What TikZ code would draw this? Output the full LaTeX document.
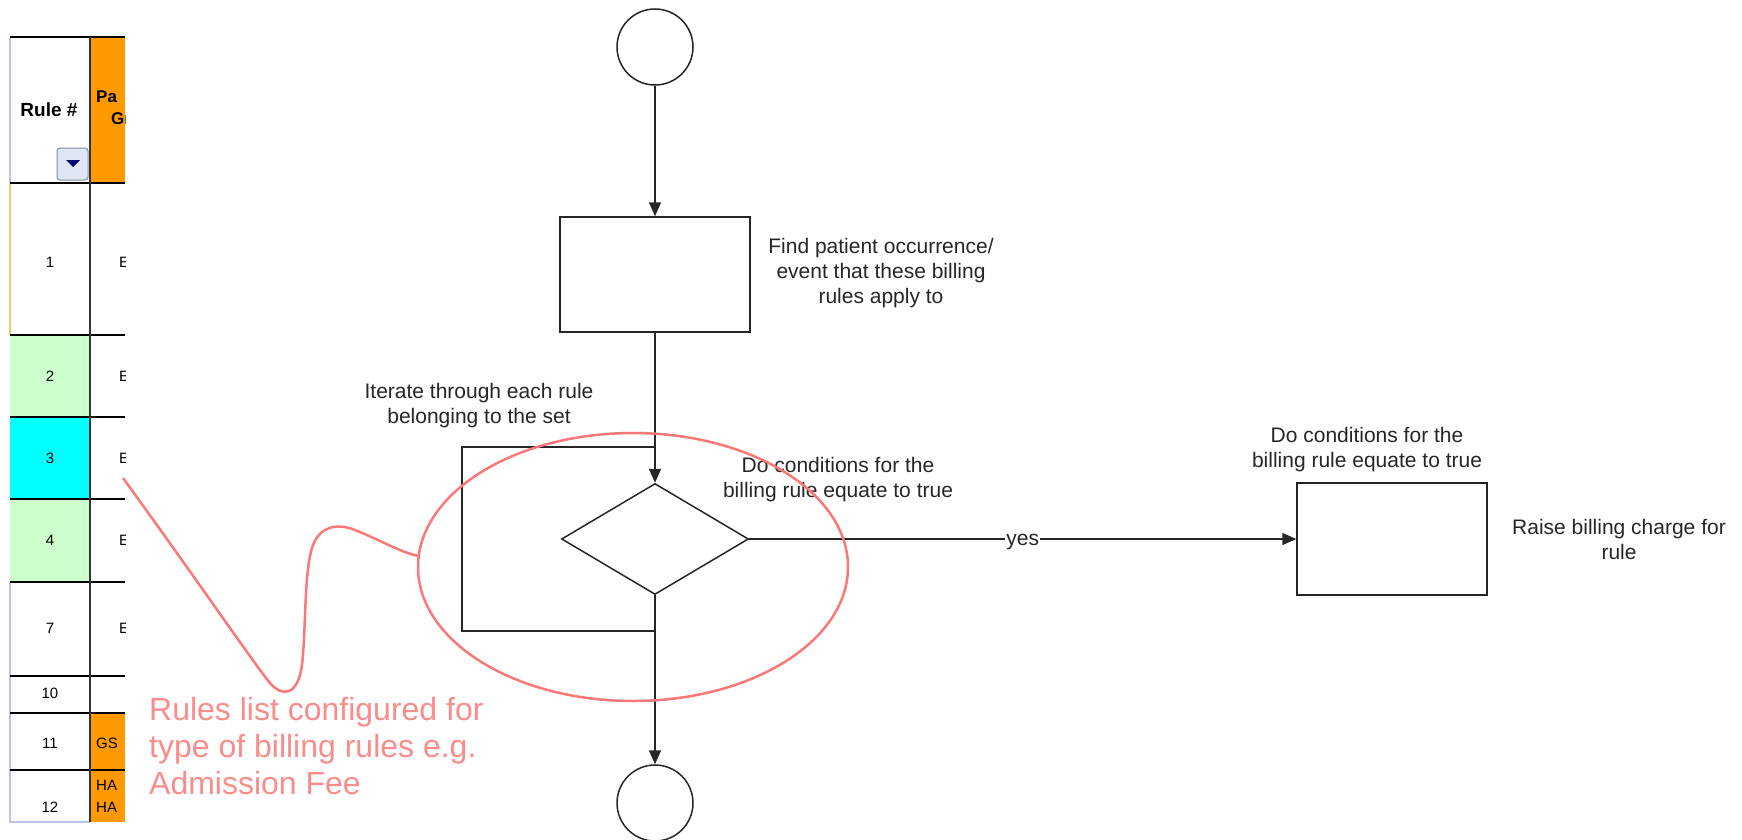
\documentclass[tikz,border=0pt]{standalone}
\usepackage{fontspec}
\setmainfont{Liberation Sans}
\usepackage{xcolor}
\usepackage{tikz}
\usetikzlibrary{shapes.geometric}
\usetikzlibrary{arrows.meta}
\usetikzlibrary{positioning}

\definecolor{xlorange}{RGB}{255,153,0}
\definecolor{xlgreen}{RGB}{204,255,204}
\definecolor{xlcyan}{RGB}{0,255,255}
\definecolor{xlblue}{RGB}{184,200,228}
\definecolor{markred}{RGB}{250,120,120}

\begin{document}
\begin{tikzpicture}[
  x=1pt, y=-1pt,
  box/.style={draw=black!85, line width=1.5pt, minimum width=190pt, minimum height=115pt, inner sep=0pt},
  term/.style={draw=black!85, circle, line width=1.5pt, minimum size=76pt, inner sep=0pt},
  decision/.style={draw=black!85, diamond, line width=1.5pt, minimum width=187pt, minimum height=111pt, inner sep=0pt},
  arr/.style={-{Triangle[length=14pt,width=12pt]}, line width=1.5pt, black!85},
  note/.style={font=\fontsize{21}{25}\selectfont, align=center, inner sep=0pt, text=black!85},
  num/.style={font=\fontsize{15}{18}\selectfont},
  cell/.style={line width=1.5pt},
  hilite/.style={draw=markred, ellipse, line width=2.5pt, minimum width=430pt, minimum height=268pt}
]
\useasboundingbox (0,0) rectangle (1742,840);

%% Rules table (left)
\fill[xlorange] (90,37) rectangle (125,183);
\fill[xlgreen] (10,335) rectangle (90,417);
\fill[xlcyan] (10,417) rectangle (90,499);
\fill[xlgreen] (10,499) rectangle (90,582);
\fill[xlorange] (90,713) rectangle (125,822);
\draw[cell, xlblue] (10,37) -- (10,183);
\draw[cell, xlorange!55] (10,183) -- (10,335);
\draw[cell, xlblue] (10,582) -- (10,822) -- (90,822);
\foreach \y in {37,183,335,417,499,582,676,713,770}
  \draw[cell] (10,\y) -- (125,\y);
\draw[cell, black!80] (90,37) -- (90,822);

\node[font=\bfseries\fontsize{19}{22}\selectfont] (rulehdr) at (49,110) {Rule \#};
\draw[rounded corners=3pt, draw=xlblue!70!black, fill=xlblue!45, line width=1pt] (57,148) rectangle (88,180);
\fill[blue!45!black] (66,160) -- (80,160) -- (73,167) -- cycle;

\foreach \n/\y in {1/262, 2/376, 3/458, 4/540, 7/628, 10/693, 11/743, 12/807}
  \node[num] (r\n) at (50,\y) {\n};

%% clipped second column
\begin{scope}
\clip (90,37) rectangle (125,822);
\node[font=\bfseries\fontsize{17}{20}\selectfont, anchor=west, inner sep=0pt] (grp1) at (96,97) {Pa};
\node[font=\bfseries\fontsize{17}{20}\selectfont, anchor=west, inner sep=0pt] (grp2) at (111,119) {Gr};
\foreach \y in {262, 376, 458, 540, 628}
  \node[num, anchor=west, inner sep=0pt] at (119,\y) {E};
\node[num, anchor=west, inner sep=0pt] (gs) at (96,743) {GS};
\node[num, anchor=west, inner sep=0pt] (ha1) at (96,785) {HA};
\node[num, anchor=west, inner sep=0pt] (ha2) at (96,807) {HA};
\end{scope}

%% Flow
\node[term] (start) at (655,47) {};
\node[box] (find) at (655,274.5) {};
\node[decision] (cond) at (655,539) {};
\node[box, minimum height=112pt] (raise) at (1392,539) {};
\node[term] (stop) at (655,803) {};

%% Loop frame round the decision
\coordinate (loopin) at (655,447);
\coordinate (loopout) at (655,631);
\draw[line width=1.5pt, black!85] (loopin) -- ++(-193,0) |- (loopout);

\draw[arr] (start) -- (find);
\draw[arr] (find) -- (cond);
\draw[arr] (cond) -- (stop);
\draw[arr] (cond) -- node[note, fill=white, inner sep=1pt, yshift=-3pt] {yes} (raise);

%% Labels
\node[note] (findlbl) at (881,273) {Find patient occurrence/\\event that these billing\\rules apply to};
\node[note] (looplbl) at (479,406) {Iterate through each rule\\belonging to the set};
\node[note] (condlbl) at (838,480) {Do conditions for the\\billing rule equate to true};
\node[note] (raisetop) at (1367,450) {Do conditions for the\\billing rule equate to true};
\node[note] (raiselbl) at (1619,539) {Raise billing charge for\\rule};

%% Red mark-up
\node[hilite] (ring) at (633,567) {};
\coordinate (calloutstart) at (123,478);
\draw[markred, line width=2.5pt] (calloutstart)
  .. controls (190,570) and (255,665) .. (270,683)
  .. controls (283,698) and (298,695) .. (302,665)
  .. controls (306,630) and (304,575) .. (312,548)
  .. controls (318,528) and (335,522) .. (355,530)
  .. controls (380,540) and (400,552) .. (ring.177);
\node[font=\fontsize{32}{37}\selectfont, text=markred!85, align=left, anchor=west, inner sep=0pt] (rulesnote) at (149,746) {Rules list configured for\\type of billing rules e.g.\\Admission Fee};

\end{tikzpicture}
\end{document}
